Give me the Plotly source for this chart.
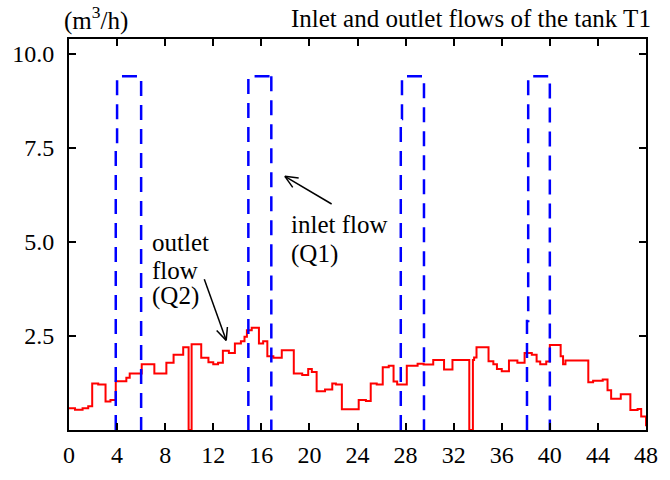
import math
import plotly.graph_objects as go

# ---- data ----
q2_hours = [0.0, 0.5, 1.13, 1.6, 1.93, 2.43, 3.04, 3.45, 3.89, 4.77,
            5.05, 6.05, 7.1, 8.1, 8.7, 9.5, 9.95, 10.2, 11.0, 11.6,
            12.0, 12.4, 12.8, 13.3, 13.8, 14.3, 14.6, 14.8, 15.2, 15.8,
            16.15, 16.5, 17.0, 17.7, 18.7, 19.4, 19.9, 20.2, 20.6, 21.3,
            21.9, 22.2, 22.7, 24.1, 24.7, 25.1, 25.6, 26.1, 26.6, 27.0,
            27.3, 28.1, 29.0, 29.5, 30.3, 31.2, 31.9, 33.3, 33.6, 33.7,
            33.9, 34.9, 35.3, 35.6, 36.0, 36.6, 37.3, 37.9, 38.5, 38.9,
            39.2, 39.7, 40.0, 40.9, 41.1, 41.3, 43.2, 43.6, 44.4, 44.8,
            45.1, 45.9, 46.7, 47.3, 47.6, 48.0]
q2_flow = [0.58, 0.54, 0.58, 0.63, 1.24, 1.21, 0.76, 0.80, 1.30, 1.39,
           1.50, 1.75, 1.50, 1.79, 2.0, 2.2, 0.0, 2.28, 1.92, 1.80,
           1.75, 1.79, 2.11, 2.05, 2.30, 2.36, 2.48, 2.65, 2.72, 2.30,
           2.36, 1.96, 1.92, 2.12, 1.50, 1.46, 1.62, 1.54, 1.03, 1.08,
           1.24, 1.21, 0.55, 0.80, 0.77, 1.24, 1.21, 1.67, 1.71, 1.29,
           1.21, 1.71, 1.76, 1.74, 1.86, 1.61, 1.86, 0.0, 1.86, 1.93,
           2.2, 1.83, 1.75, 1.62, 1.56, 1.85, 1.79, 2.05, 2.0, 1.82,
           1.75, 1.82, 2.26, 1.96, 1.75, 1.85, 1.27, 1.31, 1.34, 1.06,
           0.83, 0.95, 0.53, 0.56, 0.36, 0.1]

# inlet flow pulses (flow is zero between them; None separates pulses)
q1_hours = [3.89, 3.89, 4.0, 6.0, 6.0, None,
            14.92, 14.92, 16.83, 16.83, None,
            27.6, 27.6, 27.7, 29.53, 29.53, None,
            38.1, 38.1, 38.2, 40.0, 40.0]
q1_flow = [0.0, 7.49, 9.41, 9.41, 0.0, None,
           0.0, 9.41, 9.41, 0.0, None,
           0.0, 8.27, 9.41, 9.41, 0.0, None,
           0.0, 2.9, 9.41, 9.41, 0.0]

x_ticks = list(range(0, 49, 4))
y_tickvals = [2.5, 5.0, 7.5, 10.0]
y_ticktext = ["2.5", "5.0", "7.5", "10.0"]

title_text = "Inlet and outlet flows of the tank T1"
unit_text = "(m<sup>3</sup>/h)"

# ---- layout helpers (pixel -> paper) ----
L, R, T, B = 69, 649, 39, 449
def P(X, Y):
    return ((X - L) / (R - L), (B - Y) / (B - T))

FONT = "Liberation Serif"

fig = go.Figure()
fig.add_trace(go.Scatter(x=q2_hours, y=q2_flow, mode="lines", line_shape="hv",
                         line=dict(color="#ff0000", width=2), showlegend=False,
                         name="outlet flow (Q2)"))
fig.add_trace(go.Scatter(x=q1_hours, y=q1_flow, mode="lines", line_shape="hv",
                         connectgaps=False,
                         line=dict(color="#0000ff", width=2.5, dash="15px,9px"),
                         showlegend=False, name="inlet flow (Q1)"))

annotations = []
def text_at(txt, X, Y, anchor="left", size=25):
    px, py = P(X, Y)
    annotations.append(dict(text=txt, x=px, y=py, xref="paper", yref="paper",
                            xanchor=anchor, yanchor="middle", showarrow=False,
                            font=dict(family=FONT, size=size, color="black")))

text_at(title_text, 656, 17, anchor="right")
text_at(unit_text, 96, 18, anchor="center")
text_at("outlet", 150, 252)
text_at("flow", 150, 282)
text_at("(Q2)", 150, 309)
text_at("inlet flow", 290, 233)
text_at("(Q1)", 290, 264)

shapes = []
def arrow(tail, head, wing=14, ang=24):
    tx, ty = tail
    hx, hy = head
    d = math.hypot(hx - tx, hy - ty)
    ux, uy = (hx - tx) / d, (hy - ty) / d
    segs = [(tail, head)]
    for s in (1, -1):
        a = math.radians(ang * s)
        rx = ux * math.cos(a) - uy * math.sin(a)
        ry = ux * math.sin(a) + uy * math.cos(a)
        segs.append(((hx - wing * rx, hy - wing * ry), head))
    for (a0, a1) in segs:
        x0, y0 = P(*a0)
        x1, y1 = P(*a1)
        shapes.append(dict(type="line", xref="paper", yref="paper",
                           x0=x0, y0=y0, x1=x1, y1=y1,
                           line=dict(color="black", width=1.5)))

arrow((205, 291), (227, 355))
arrow((333, 212), (286, 183))

axis_common = dict(showline=True, linecolor="black", linewidth=2, mirror="ticks",
                   ticks="inside", ticklen=7, tickwidth=1.5, tickcolor="black",
                   showgrid=False, zeroline=False,
                   tickfont=dict(family=FONT, size=24, color="black"))

fig.update_layout(
    width=670, height=480,
    margin=dict(l=L, r=670 - R, t=T, b=480 - B),
    paper_bgcolor="white", plot_bgcolor="white",
    xaxis=dict(range=[0, 48], tickvals=x_ticks, ticklabelstandoff=2, **axis_common),
    yaxis=dict(range=[0, 10.4], tickvals=y_tickvals, ticktext=y_ticktext,
               ticklabelstandoff=8, **axis_common),
    annotations=annotations, shapes=shapes,
)

fig.write_html("out.html", config={"displayModeBar": False})
